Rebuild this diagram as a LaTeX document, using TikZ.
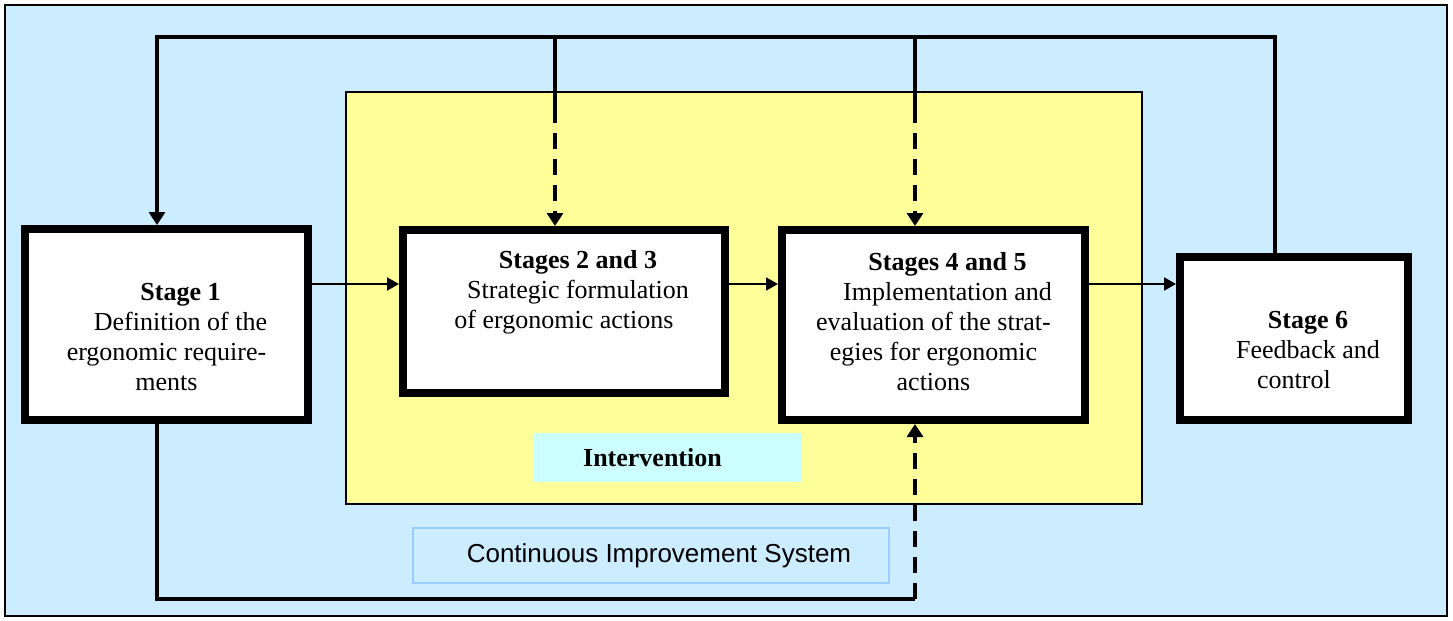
\documentclass[tikz,border=0pt]{standalone}
\usepackage{fontspec}
\setmainfont{Liberation Serif}
\setsansfont{Liberation Sans}
\usetikzlibrary{arrows.meta}
\definecolor{skyblue}{HTML}{CCECFF}
\definecolor{paleyellow}{HTML}{FFFF99}
\definecolor{palecyan}{HTML}{CCFFFF}
\definecolor{frameblue}{HTML}{99CCFF}
\begin{document}
\begin{tikzpicture}[x=0.5pt, y=-0.5pt, >={Triangle[length=6.5pt,width=8pt]},
    font=\fontsize{13}{15}\selectfont,
    stage/.style={draw, line width=4pt, fill=white},
    stagetext/.style={align=center},
    flow/.style={line width=2pt},
    dashflow/.style={line width=2pt, dash pattern=on 8pt off 5pt},
    hflow/.style={line width=1pt, -{Triangle[length=6pt,width=6.5pt]}}]
\useasboundingbox (0,0) rectangle (1453,621);
\draw[line width=1pt, fill=skyblue] (5,5) rectangle (1447,616);
\draw[line width=.6pt, fill=paleyellow] (346,92) rectangle (1142,504);
% stages
\node[stage, minimum width=141.5pt, minimum height=95.5pt] (s1) at (166.5,324.5) {};
\node[stage, minimum width=161pt, minimum height=81.5pt] (s23) at (564,311.5) {};
\node[stage, minimum width=151.5pt, minimum height=95pt] (s45) at (933.5,325) {};
\node[stage, minimum width=114pt, minimum height=81.5pt] (s6) at (1294,338.5) {};
\node[stagetext] (t1) at ([yshift=-6.25pt]s1.center)
    {\hspace*{14pt}\textbf{Stage 1}\\ \hspace*{14pt}Definition of the\\ ergonomic require-\\ ments};
\node[stagetext] (t23) at ([yshift=9.75pt]s23.center)
    {\hspace*{14pt}\textbf{Stages 2 and 3}\\ \hspace*{14pt}Strategic formulation\\ of ergonomic actions};
\node[stagetext] (t45) at ([yshift=1.5pt]s45.center)
    {\hspace*{14pt}\textbf{Stages 4 and 5}\\ \hspace*{14pt}Implementation and\\ evaluation of the strat-\\ egies for ergonomic\\ actions};
\node[stagetext] (t6) at ([yshift=-5.75pt]s6.center)
    {\hspace*{14pt}\textbf{Stage 6}\\ \hspace*{14pt}Feedback and\\ control};
\node[fill=palecyan, minimum width=134.5pt, minimum height=24.5pt] (int) at (667.5,457.5)
    {\textbf{Intervention}\hspace*{15pt}};
\node[draw=frameblue, line width=1pt, fill=skyblue, minimum width=238pt, minimum height=27.5pt,
    font=\sffamily\fontsize{13}{15}\selectfont] (cis) at (651,555.5)
    {\hspace*{8pt}Continuous Improvement System};
% feedback loop on top
\coordinate (topL) at (157,37);
\coordinate (topR) at (1275,37);
\draw[flow,->] (s6.north -| topR) -- (topR) -- (topL) -- (topL |- s1.north);
\foreach \x/\b in {555/s23, 915/s45}
{
    \draw[flow] (\x,37) -- (\x,107);
    \draw[dashflow,->] (\x,107) -- (\x,0 |- \b.north);
}
% loop underneath
\coordinate (botL) at (157,599);
\coordinate (botR) at (915,599);
\draw[flow] (botL |- s1.south) -- (botL) -- (botR);
\draw[dashflow,->] (botR) -- (botR |- s45.south);
% main flow
\coordinate (mid) at (0,284);
\foreach \a/\b in {s1/s23, s23/s45, s45/s6}
    \draw[hflow] (\a.east |- mid) -- (\b.west |- mid);
\end{tikzpicture}
\end{document}
